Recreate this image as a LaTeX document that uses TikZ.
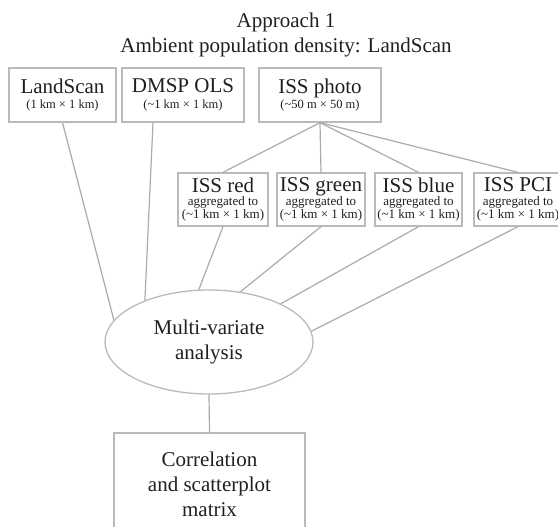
\documentclass[tikz,border=0pt]{standalone}
\usepackage{fontspec}
\setmainfont{Liberation Serif}
\usetikzlibrary{shapes.geometric,calc}
\begin{document}
\begin{tikzpicture}[x=1pt,y=-1pt,
  box/.style={draw=black!27,line width=1.3pt,rectangle,inner sep=0pt,align=center,text=black!88},
  topbox/.style={box,minimum height=54pt,font=\fontsize{12.5}{15.5}\selectfont},
  subbox/.style={box,minimum height=53pt,font=\fontsize{13}{13.2}\selectfont},
  conn/.style={draw=black!33,line width=1.2pt},
  bigtxt/.style={font=\fontsize{21}{25}\selectfont,align=center,text=black!88}]
\useasboundingbox (0,0) rectangle (558,527);
\clip (0,0) rectangle (558,527);
\newcommand{\bigt}[1]{{\fontsize{21}{25}\selectfont #1}}
\newcommand{\tld}{\textasciitilde}

\node[bigtxt] (title) at (286,35) {Approach 1\\Ambient population density: LandScan};

\node[topbox,minimum width=107pt] (ls) at (62.5,95) {\bigt{LandScan}\\(1 km × 1 km)};
\node[topbox,minimum width=122pt] (dmsp) at (183,95) {\bigt{DMSP OLS}\\(\tld1 km × 1 km)};
\node[topbox,minimum width=122pt] (photo) at (320,95) {\bigt{ISS photo}\\(\tld50 m × 50 m)};

\node[subbox,minimum width=90pt] (red) at (223,199.5) {\bigt{ISS red}\\aggregated to\\(\tld1 km × 1 km)};
\node[subbox,minimum width=88pt] (green) at (321,199.5) {\bigt{ISS green}\\aggregated to\\(\tld1 km × 1 km)};
\node[subbox,minimum width=87pt] (blue) at (418.5,199.5) {\bigt{ISS blue}\\aggregated to\\(\tld1 km × 1 km)};
\node[subbox,minimum width=88pt] (pci) at (518,199.5) {\bigt{ISS PCI}\\aggregated to\\(\tld1 km × 1 km)};

\node[ellipse,draw=black!27,line width=1.3pt,minimum width=208pt,minimum height=104pt,inner sep=0pt,bigtxt] (mv) at (209,342) {Multi-variate\\analysis};

\node[box,bigtxt,minimum width=191pt,minimum height=102pt] (cor) at (209.5,484) {Correlation\\and scatterplot\\matrix};

\draw[conn] (ls.south) -- (mv.167);
\draw[conn] ($(dmsp.south)+(-30,0)$) -- (mv.147);
\draw[conn] (photo.south) -- (red.north);
\draw[conn] (photo.south) -- (green.north);
\draw[conn] (photo.south) -- (blue.north);
\draw[conn] (photo.south) -- (pci.north);
\draw[conn] (red.south) -- (mv.101);
\draw[conn] (green.south) -- (mv.58);
\draw[conn] (blue.south) -- (mv.28);
\draw[conn] (pci.south) -- (mv.6);
\draw[conn] (mv.south) -- (cor.north);
\end{tikzpicture}
\end{document}
